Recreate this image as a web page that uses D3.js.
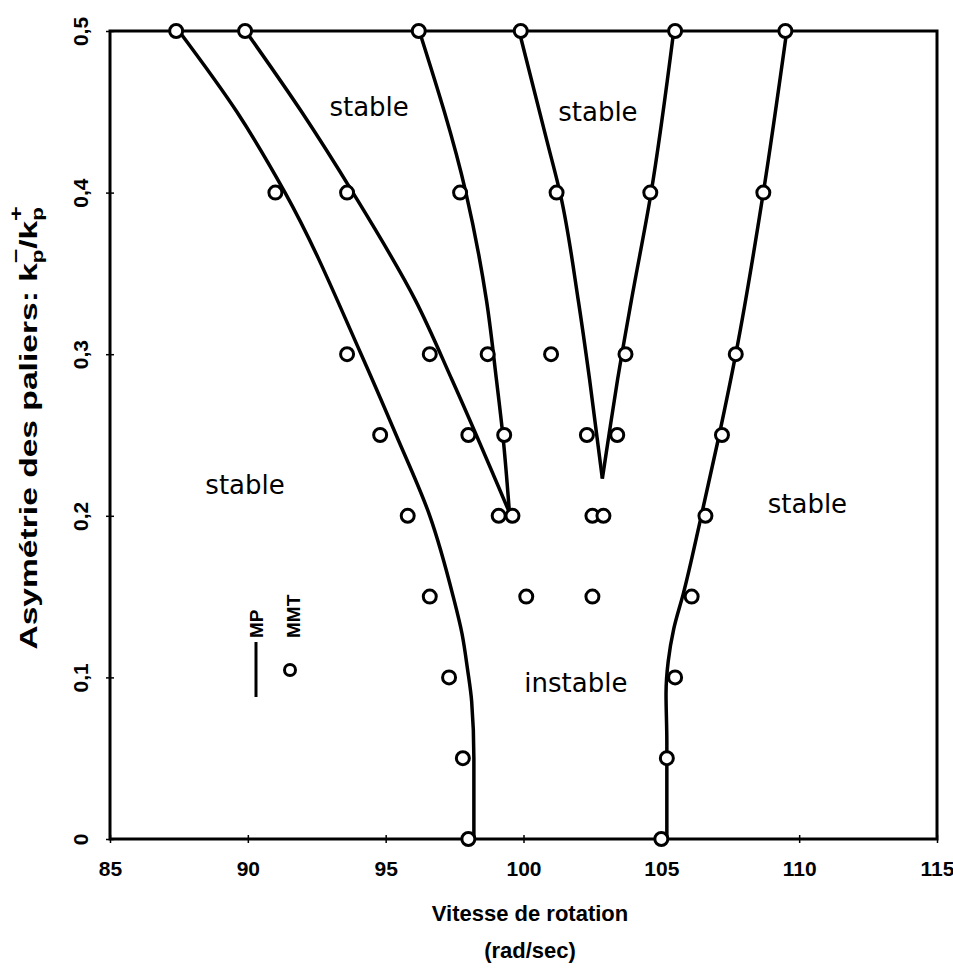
<!DOCTYPE html>
<html>
<head>
<meta charset="utf-8">
<style>
  body { margin: 0; background: #fff; }
  svg { display: block; }
</style>
</head>
<body>
<svg width="953" height="970"></svg>
<script src="https://cdn.jsdelivr.net/npm/d3@7"></script>
<script>
// axes
var xTicks = [85, 90, 95, 100, 105, 110, 115];
var yTicks = [0, 0.1, 0.2, 0.3, 0.4, 0.5];

// MP curves: [vitesse, asymetrie], ordered by asymetrie
var mpLeft = [[98.2, 0], [98.2, 0.05], [98.12, 0.085], [97.97, 0.105], [97.77, 0.127], [97.45, 0.15],
  [96.6, 0.2], [95.38, 0.25], [94.11, 0.3], [91.35, 0.4], [89.6, 0.45], [87.5, 0.5]];
var mpInnerLeftA = [[99.49, 0.202], [97.41, 0.284], [96.09, 0.333], [93.81, 0.4], [91.95, 0.45], [89.92, 0.5]];
var mpInnerLeftB = [[99.49, 0.202], [99.25, 0.25], [99.02, 0.284], [98.66, 0.333], [97.91, 0.4], [96.22, 0.5]];
var mpInnerRightA = [[102.86, 0.223], [102.4, 0.284], [101.99, 0.333], [101.35, 0.398], [100.85, 0.432], [99.84, 0.5]];
var mpInnerRightB = [[102.86, 0.223], [103.1, 0.25], [103.41, 0.284], [103.91, 0.333], [104.61, 0.398], [105.45, 0.5]];
var mpRight = [[105.2, 0], [105.2, 0.06], [105.17, 0.09], [105.25, 0.11], [105.45, 0.13], [105.8, 0.152],
  [106.45, 0.2], [107.1, 0.25], [107.7, 0.3], [108.7, 0.4], [109.55, 0.5]];
var mpCurves = [mpLeft, mpInnerLeftA, mpInnerLeftB, mpInnerRightA, mpInnerRightB, mpRight];

// MMT points, one row per asymmetry level
var mmtLevels = [0.5, 0.4, 0.3, 0.25, 0.2, 0.15, 0.1, 0.05, 0];
var mmtSpeeds = [
  [87.4, 89.9, 96.2, 99.9, 105.5, 109.5],
  [91.0, 93.6, 97.7, 101.2, 104.6, 108.7],
  [93.6, 96.6, 98.7, 101.0, 103.7, 107.7],
  [94.8, 98.0, 99.3, 102.3, 103.4, 107.2],
  [95.8, 99.1, 99.6, 102.5, 102.9, 106.6],
  [96.6, 100.1, 102.5, 106.1],
  [97.3, 105.5],
  [97.8, 105.2],
  [98.0, 105.0]
];

// zone labels
var zoneNames = ["stable", "stable", "stable", "stable", "instable"];
var zoneSpeeds = [94.4, 102.7, 89.9, 110.3, 101.9];
var zoneLevels = [0.453, 0.45, 0.219, 0.207, 0.0965];

var svg = d3.select("svg");
var pL = 110, pT = 31, pR = 937, pB = 839;

var x = d3.scaleLinear().domain([85, 115]).range([pL, pR]);
var y = d3.scaleLinear().domain([0, 0.5]).range([pB, pT]);

var fmt = function(d) { return d === 0 ? "0" : String(d).replace(".", ","); };

// x axis
var gx = svg.append("g").attr("transform", "translate(0," + pB + ")")
  .call(d3.axisBottom(x).tickValues(xTicks).tickSize(4).tickPadding(18).tickFormat(d3.format("d")));
gx.select(".domain").remove();
gx.selectAll(".tick line").attr("y1", -4).attr("stroke", "#000").attr("stroke-width", 1.5);
gx.selectAll("text").attr("fill", "#000")
  .style("font-family", "'Liberation Sans', Arial, sans-serif")
  .style("font-weight", "bold").style("font-size", "21px");

// y axis
var gy = svg.append("g").attr("transform", "translate(" + pL + ",0)")
  .call(d3.axisLeft(y).tickValues(yTicks).tickSize(4).tickFormat(fmt));
gy.select(".domain").remove();
gy.selectAll(".tick line").attr("x1", 4).attr("stroke", "#000").attr("stroke-width", 1.5);
gy.selectAll("text").attr("fill", "#000")
  .attr("x", null).attr("dy", null)
  .attr("text-anchor", "middle")
  .attr("transform", "translate(-22,0) rotate(-90)")
  .style("font-family", "'Liberation Sans', Arial, sans-serif")
  .style("font-weight", "bold").style("font-size", "21px");

// frame
svg.append("rect")
  .attr("x", pL).attr("y", pT)
  .attr("width", pR - pL).attr("height", pB - pT)
  .attr("fill", "none").attr("stroke", "#000").attr("stroke-width", 3);

// axis titles
var title = svg.append("g")
  .style("font-family", "'Liberation Sans', Arial, sans-serif")
  .style("font-weight", "bold").attr("fill", "#000");
title.append("text").attr("x", 530).attr("y", 921).attr("text-anchor", "middle")
  .style("font-size", "22px").text("Vitesse de rotation");
title.append("text").attr("x", 530).attr("y", 958).attr("text-anchor", "middle")
  .style("font-size", "22px").text("(rad/sec)");

var yt = title.append("text")
  .attr("transform", "translate(37,428) rotate(-90) scale(1.4,1)")
  .attr("text-anchor", "middle")
  .style("font-size", "24px");
yt.append("tspan").text("Asymétrie des paliers: k");
yt.append("tspan").attr("dy", 6).style("font-size", "16px").text("p");
yt.append("tspan").attr("dx", -10).attr("dy", -21).style("font-size", "18px").text("−");
yt.append("tspan").attr("dy", 15).text("/k");
yt.append("tspan").attr("dy", 6).style("font-size", "16px").text("p");
yt.append("tspan").attr("dx", -10).attr("dy", -21).style("font-size", "18px").text("+");

// MP curves
var line = d3.line()
  .x(function(d) { return x(d[0]); })
  .y(function(d) { return y(d[1]); })
  .curve(d3.curveMonotoneY);

svg.append("g").selectAll("path").data(mpCurves).enter().append("path")
  .attr("d", line)
  .attr("fill", "none").attr("stroke", "#000").attr("stroke-width", 3.5)
  .attr("stroke-linejoin", "round");

// MMT circles
var pts = [];
mmtLevels.forEach(function(lv, i) {
  mmtSpeeds[i].forEach(function(s) { pts.push([s, lv]); });
});
svg.append("g").selectAll("circle").data(pts).enter().append("circle")
  .attr("cx", function(d) { return x(d[0]); })
  .attr("cy", function(d) { return y(d[1]); })
  .attr("r", 6.5)
  .attr("fill", "#fff").attr("stroke", "#000").attr("stroke-width", 3);

// zone labels
svg.append("g").selectAll("text").data(zoneNames).enter().append("text")
  .attr("x", function(d, i) { return x(zoneSpeeds[i]); })
  .attr("y", function(d, i) { return y(zoneLevels[i]) + 9; })
  .attr("text-anchor", "middle")
  .style("font-family", "'DejaVu Sans', sans-serif")
  .style("font-size", "26px").attr("fill", "#000")
  .text(function(d) { return d; });

// legend
var lg = svg.append("g")
  .style("font-family", "'Liberation Sans', Arial, sans-serif")
  .style("font-weight", "bold").style("font-size", "19px").attr("fill", "#000");
lg.append("line").attr("x1", 256).attr("x2", 256).attr("y1", 642).attr("y2", 697)
  .attr("stroke", "#000").attr("stroke-width", 3);
lg.append("text").attr("transform", "translate(263,638) rotate(-90)").text("MP");
lg.append("circle").attr("cx", 290).attr("cy", 670).attr("r", 5.5)
  .attr("fill", "#fff").attr("stroke", "#000").attr("stroke-width", 3);
lg.append("text").attr("transform", "translate(300,638) rotate(-90)").text("MMT");
</script>
</body>
</html>
